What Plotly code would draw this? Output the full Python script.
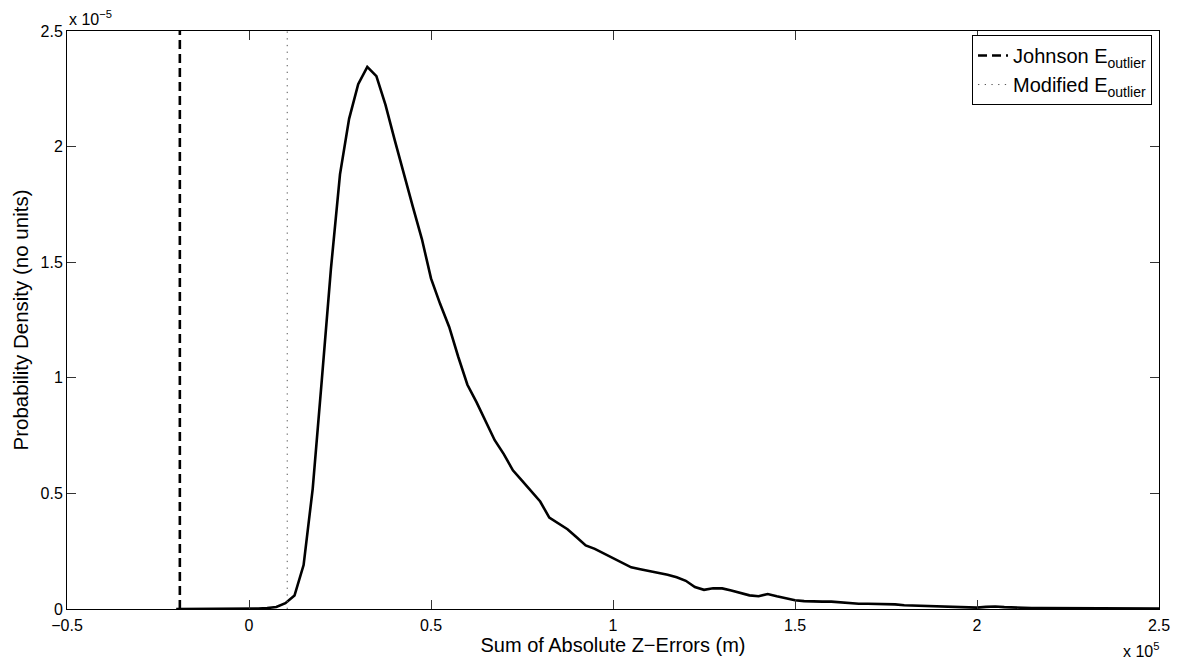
import plotly.graph_objects as go

# ---- data ----
x_err = [-20000, -17500, -15000, -12500, -10000, -7500, -5000, -2500,
         0, 2500, 5000, 7500, 10000, 12500, 15000, 17500, 20000, 22500,
         25000, 27500, 30000, 32500, 35000, 37500, 40000, 42500, 45000, 47500,
         50000, 52500, 55000, 57500, 60000, 62500, 65000, 67500, 70000, 72500,
         75000, 77500, 80000, 82500, 85000, 87500, 90000, 92500, 95000, 97500,
         100000, 102500, 105000, 107500, 110000, 112500, 115000, 117500,
         120000, 122500, 125000, 127500, 130000, 132500, 135000, 137500,
         140000, 142500, 145000, 147500, 150000, 152500, 155000, 157500,
         160000, 162500, 165000, 167500, 170000, 172500, 175000, 177500,
         180000, 182500, 185000, 187500, 190000, 192500, 195000, 197500,
         200000, 202500, 205000, 207500, 210000, 212500, 215000, 217500,
         220000, 222500, 225000, 227500, 230000, 232500, 235000, 237500,
         240000, 242500, 245000, 247500, 250000]

# probability density in units of 1e-5
density_e5 = [0.0, 0.0, 0.0, 0.0, 0.0, 0.0, 0.0005, 0.0005,
              0.001, 0.002, 0.004, 0.009, 0.025, 0.058, 0.19, 0.52, 0.99, 1.47,
              1.88, 2.12, 2.27, 2.345, 2.305, 2.18, 2.03, 1.88, 1.74, 1.60,
              1.43, 1.32, 1.22, 1.09, 0.97, 0.895, 0.81, 0.73, 0.67, 0.60,
              0.555, 0.51, 0.465, 0.395, 0.37, 0.345, 0.31, 0.275, 0.26, 0.24,
              0.22, 0.20, 0.18, 0.172, 0.165, 0.157, 0.148, 0.137,
              0.122, 0.095, 0.083, 0.09, 0.089, 0.08, 0.07, 0.059,
              0.055, 0.065, 0.055, 0.045, 0.038, 0.034, 0.032, 0.032,
              0.032, 0.028, 0.026, 0.023, 0.023, 0.023, 0.022, 0.02,
              0.016, 0.015, 0.015, 0.014, 0.012, 0.01, 0.008, 0.007,
              0.006, 0.009, 0.011, 0.008, 0.006, 0.005, 0.004, 0.004,
              0.004, 0.004, 0.005, 0.005, 0.004, 0.003, 0.003, 0.003,
              0.003, 0.002, 0.002, 0.002, 0.002]

assert len(x_err) == len(density_e5)

johnson_x = -19000
modified_x = 10500
y_span = [0, 2.5e-5]

x_tickvals = [-50000, 0, 50000, 100000, 150000, 200000, 250000]
x_ticktext = ["\u22120.5", "0", "0.5", "1", "1.5", "2", "2.5"]
y_tickvals = [0, 0.5e-5, 1.0e-5, 1.5e-5, 2.0e-5, 2.5e-5]
y_ticktext = ["0", "0.5", "1", "1.5", "2", "2.5"]

density = [v * 1e-5 for v in density_e5]

FONT = "Liberation Sans, Arial, Helvetica, sans-serif"

fig = go.Figure()
fig.add_trace(go.Scatter(x=x_err, y=density, mode="lines",
                         line=dict(color="black", width=2.6),
                         showlegend=False, hoverinfo="skip"))
fig.add_trace(go.Scatter(x=[johnson_x, johnson_x], y=y_span, mode="lines",
                         line=dict(color="black", width=2.6, dash="9px,5px"),
                         name="Johnson E<sub>outlier</sub>"))
fig.add_trace(go.Scatter(x=[modified_x, modified_x], y=y_span, mode="lines",
                         line=dict(color="#555555", width=1, dash="1.3px,5.4px"),
                         name="Modified E<sub>outlier</sub>"))

fig.update_layout(
    width=1178, height=661,
    margin=dict(l=67, r=19, t=31, b=52),
    paper_bgcolor="white", plot_bgcolor="white",
    font=dict(family=FONT, color="black", size=16),
    showlegend=True,
    legend=dict(x=0.9936, y=0.993, xanchor="right", yanchor="top",
                bgcolor="white", bordercolor="black", borderwidth=1,
                font=dict(family=FONT, size=20, color="black"),
                tracegroupgap=0),
    xaxis=dict(range=[-50000, 250000], tickvals=x_tickvals, ticktext=x_ticktext,
               ticks="inside", ticklen=9, tickwidth=1, tickcolor="#333",
               showline=True, linecolor="black", linewidth=1, mirror="ticks",
               showgrid=False, zeroline=False, automargin=False,
               tickfont=dict(size=16), ticklabelstandoff=2,
               title=dict(text="Sum of Absolute Z\u2212Errors (m)",
                          font=dict(size=20), standoff=0)),
    yaxis=dict(range=[0, 2.5e-5], tickvals=y_tickvals, ticktext=y_ticktext,
               ticks="inside", ticklen=9, tickwidth=1, tickcolor="#333",
               showline=True, linecolor="black", linewidth=1, mirror="ticks",
               showgrid=False, zeroline=False, automargin=False,
               tickfont=dict(size=16),
               title=dict(text="Probability Density (no units)",
                          font=dict(size=20.5), standoff=6)),
    annotations=[
        dict(text="x 10<sup>\u22125</sup>", xref="paper", yref="paper",
             x=0, y=1, xanchor="left", yanchor="bottom", showarrow=False,
             font=dict(size=16), yshift=1),
        dict(text="x 10<sup>5</sup>", xref="paper", yref="paper",
             x=1, y=0, xanchor="right", yanchor="top", showarrow=False,
             font=dict(size=16), yshift=-29, xshift=2),
    ],
)

fig.write_html("out.html")
